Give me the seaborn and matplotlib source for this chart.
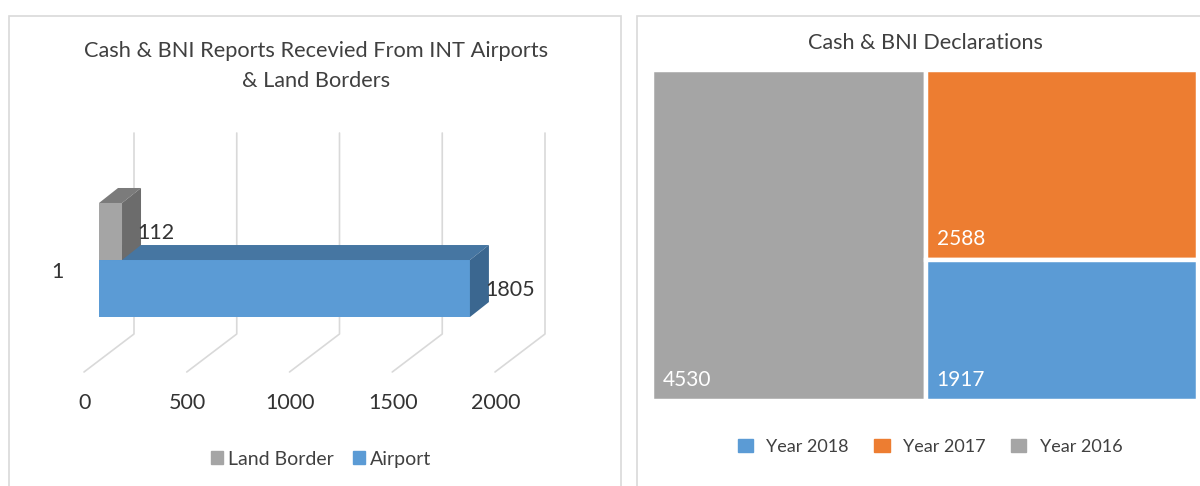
import matplotlib.pyplot as plt
from matplotlib.patches import Polygon, Rectangle, Patch
import numpy as np
import pandas as pd
import seaborn as sns

# left chart data
bar_group = ["1", "1"]
locations = ["Land Border", "Airport"]
reports = [112, 1805]
x_ticks = [0, 500, 1000, 1500, 2000]

# right chart data
years = ["Year 2018", "Year 2017", "Year 2016"]
declarations = [1917, 2588, 4530]

front_colours = ["#a5a5a5", "#5b9bd5"]
top_colours = ["#7b7b7b", "#4676a2"]
side_colours = ["#6c6c6c", "#3b6790"]
year_colours = ["#5b9bd5", "#ed7d31", "#a5a5a5"]
grid_colour = "#d9d9d9"
text_colour = "#404040"

sns.set_theme(style="white")
plt.rcParams["font.family"] = ["Lato", "DejaVu Sans"]

W, H = 1200, 486
fig = plt.figure(figsize=(12, 4.86), dpi=100)


def px_axes(l, t, r, b):
    return fig.add_axes([l / W, 1 - b / H, (r - l) / W, (b - t) / H])


def shifted(ax, pts, dx=0, dy=0):
    # move data points by a pixel offset, return data points
    disp = ax.transData.transform(pts) + np.array([dx, dy])
    return ax.transData.inverted().transform(disp)


# panel frames
fig.add_artist(Rectangle((9 / W, -0.1), (621 - 9) / W, 1.1 - 16 / H,
                         transform=fig.transFigure, fill=False,
                         edgecolor=grid_colour, lw=1.2))
fig.add_artist(Rectangle((637 / W, -0.1), 1.0, 1.1 - 16 / H,
                         transform=fig.transFigure, fill=False,
                         edgecolor=grid_colour, lw=1.2))

# ---- left: 3D looking bar chart ----
ax = px_axes(99, 133, 510, 334)
df = pd.DataFrame({"group": bar_group, "location": locations, "reports": reports})
sns.barplot(data=df, x="reports", y="group", hue="location", hue_order=locations,
            palette=front_colours, orient="h", width=0.8, saturation=1,
            legend=False, ax=ax)
ax.set_xlim(0, 2000)
ax.set_ylim(0.519, -0.891)
ax.axis("off")

y_bot, y_top = ax.get_ylim()
for v in x_ticks:
    back_bot = shifted(ax, [(v, y_bot)], 35, 0)[0]
    back_top = shifted(ax, [(v, y_top)], 35, 0)[0]
    diag = shifted(ax, [(v, y_bot)], -15, -38)[0]
    ax.plot([back_top[0], back_bot[0], diag[0]], [back_top[1], back_bot[1], diag[1]],
            color=grid_colour, lw=1.2, clip_on=False, zorder=1)
    ax.annotate(str(v), xy=(v, y_bot), xytext=(-14, -69), textcoords="offset pixels",
                ha="center", va="center", fontsize=15.5, color="#333333",
                annotation_clip=False)

depth = (19, 15)
for i, patch in enumerate(ax.patches[:len(locations)]):
    x0, y0 = patch.get_x(), patch.get_y()
    w, h = patch.get_width(), patch.get_height()
    z = 4 if i == 0 else 2
    patch.set_zorder(z)
    patch.set_edgecolor("none")
    tl, tr, br = (x0, y0), (x0 + w, y0), (x0 + w, y0 + h)
    top = [tl, tr] + list(shifted(ax, [tr, tl], *depth))
    side = [tr, br] + list(shifted(ax, [br, tr], *depth))
    ax.add_patch(Polygon(top, closed=True, facecolor=top_colours[i], lw=0, zorder=z))
    ax.add_patch(Polygon(side, closed=True, facecolor=side_colours[i], lw=0, zorder=z))
    ax.annotate(str(reports[i]), xy=(x0 + w, y0 + h / 2), xytext=(15, -1.5),
                textcoords="offset pixels", ha="left", va="center",
                fontsize=15.5, color="#333333", zorder=6, annotation_clip=False)

ax.annotate(bar_group[0], xy=(0, 0), xytext=(-42, -12), textcoords="offset pixels",
            ha="center", va="center", fontsize=15.5, color="#333333",
            annotation_clip=False)

fig.text(316 / W, 1 - 66 / H, "Cash & BNI Reports Recevied From INT Airports\n& Land Borders",
         ha="center", va="center", fontsize=15.7, color=text_colour, linespacing=1.67)

fig.legend(handles=[Patch(color=c, label=l) for c, l in zip(front_colours, locations)],
           loc="center", bbox_to_anchor=(321 / W, 1 - 459 / H), ncol=2, frameon=False,
           fontsize=14, handlelength=0.6, handleheight=0.6, handletextpad=0.25,
           columnspacing=1.0, labelcolor=text_colour)

# ---- right: treemap ----
ax2 = px_axes(652, 70, 1198, 401)
ax2.set_xlim(0, 1)
ax2.set_ylim(1, 0)
ax2.axis("off")

vals = np.array(declarations, dtype=float)
order = np.argsort(vals)[::-1]
total = vals.sum()
first = order[0]
w0 = vals[first] / total
rects = {first: (0.0, 0.0, w0, 1.0)}
rest = total - vals[first]
y = 0.0
for i in order[1:]:
    h = vals[i] / rest
    rects[i] = (w0, y, 1 - w0, h)
    y += h

for i, (x, y, w, h) in rects.items():
    ax2.bar(x, h, width=w, bottom=y, align="edge", color=year_colours[i],
            edgecolor="white", linewidth=3.2)
    ax2.annotate(str(declarations[i]), xy=(x, y + h), xytext=(11, 21),
                 textcoords="offset pixels", ha="left", va="center",
                 fontsize=15, color="white")

fig.text(925 / W, 1 - 43 / H, "Cash & BNI Declarations", ha="center", va="center",
         fontsize=15.6, color=text_colour)

fig.legend(handles=[Patch(color=c, label=l) for c, l in zip(year_colours, years)],
           loc="center", bbox_to_anchor=(930 / W, 1 - 447 / H), ncol=3, frameon=False,
           fontsize=13, handlelength=0.85, handleheight=0.75, handletextpad=0.75,
           columnspacing=1.4, labelcolor=text_colour)

fig.savefig("out.png", dpi=100)
